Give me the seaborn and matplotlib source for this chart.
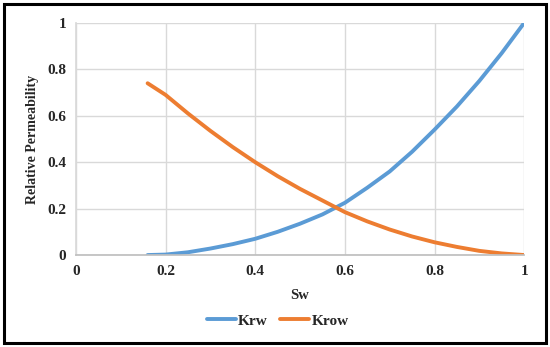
import pandas as pd
import numpy as np
import seaborn as sns
import matplotlib.pyplot as plt
from matplotlib.patches import Rectangle

# values
sw = [0.16, 0.2, 0.25, 0.3, 0.35, 0.4, 0.45, 0.5, 0.55, 0.6, 0.65, 0.7, 0.75, 0.8, 0.85, 0.9, 0.95, 1.0]
krw = [0.0, 0.002, 0.012, 0.028, 0.047, 0.07, 0.1, 0.135, 0.175, 0.225, 0.29, 0.36, 0.445, 0.54, 0.64, 0.75, 0.87, 1.0]
krow = [0.74, 0.69, 0.61, 0.535, 0.465, 0.40, 0.34, 0.285, 0.235, 0.185, 0.145, 0.11, 0.08, 0.055, 0.035, 0.018, 0.007, 0.0]

df = pd.DataFrame({'Sw': sw * 2,
                   'Kr': krw + krow,
                   'curve': ['Krw'] * len(sw) + ['Krow'] * len(sw)})

sns.set_theme(style="whitegrid")
plt.rcParams['font.family'] = ['Liberation Serif', 'DejaVu Serif']
plt.rcParams['font.weight'] = 'bold'

fig = plt.figure(figsize=(5.5, 3.47), dpi=100)
ax = fig.add_axes([0.138, 0.265, 0.815, 0.669])

sns.lineplot(data=df, x='Sw', y='Kr', hue='curve', palette=['#5B9BD5', '#ED7D31'],
             linewidth=2.8, ax=ax, legend=True)

ax.set_xlim(0, 1)
ax.set_ylim(0, 1)
ax.set_xticks(np.arange(0, 1.01, 0.2))
ax.set_yticks(np.arange(0, 1.01, 0.2))
ax.set_xticklabels(['0', '0.2', '0.4', '0.6', '0.8', '1'])
ax.set_yticklabels(['0', '0.2', '0.4', '0.6', '0.8', '1'])
ax.tick_params(axis='both', labelsize=11, pad=7, length=0)
ax.grid(color='#D9D9D9', linewidth=1)
for s in ['top', 'right']:
    ax.spines[s].set_visible(False)
ax.spines['left'].set_color('#D9D9D9')
ax.spines['bottom'].set_color('#BFBFBF')
for lab in ax.get_xticklabels() + ax.get_yticklabels():
    lab.set_fontweight('bold')

ax.set_xlabel('Sw', fontsize=10.5, fontweight='bold', labelpad=8)
ax.set_ylabel('Relative Permeability', fontsize=10, fontweight='bold', labelpad=6)

handles, labels = ax.get_legend_handles_labels()
ax.legend(handles, labels, loc='center', bbox_to_anchor=(0.505, 0.075),
          bbox_transform=fig.transFigure, ncol=2, frameon=False,
          handlelength=1.9, handletextpad=0.15, columnspacing=0.8,
          prop={'weight': 'bold', 'size': 11})

fig.patches.append(Rectangle((0.008, 0.012), 0.984, 0.976, transform=fig.transFigure,
                             fill=False, edgecolor='black', linewidth=2.2))

fig.savefig('out.png', dpi=100)
